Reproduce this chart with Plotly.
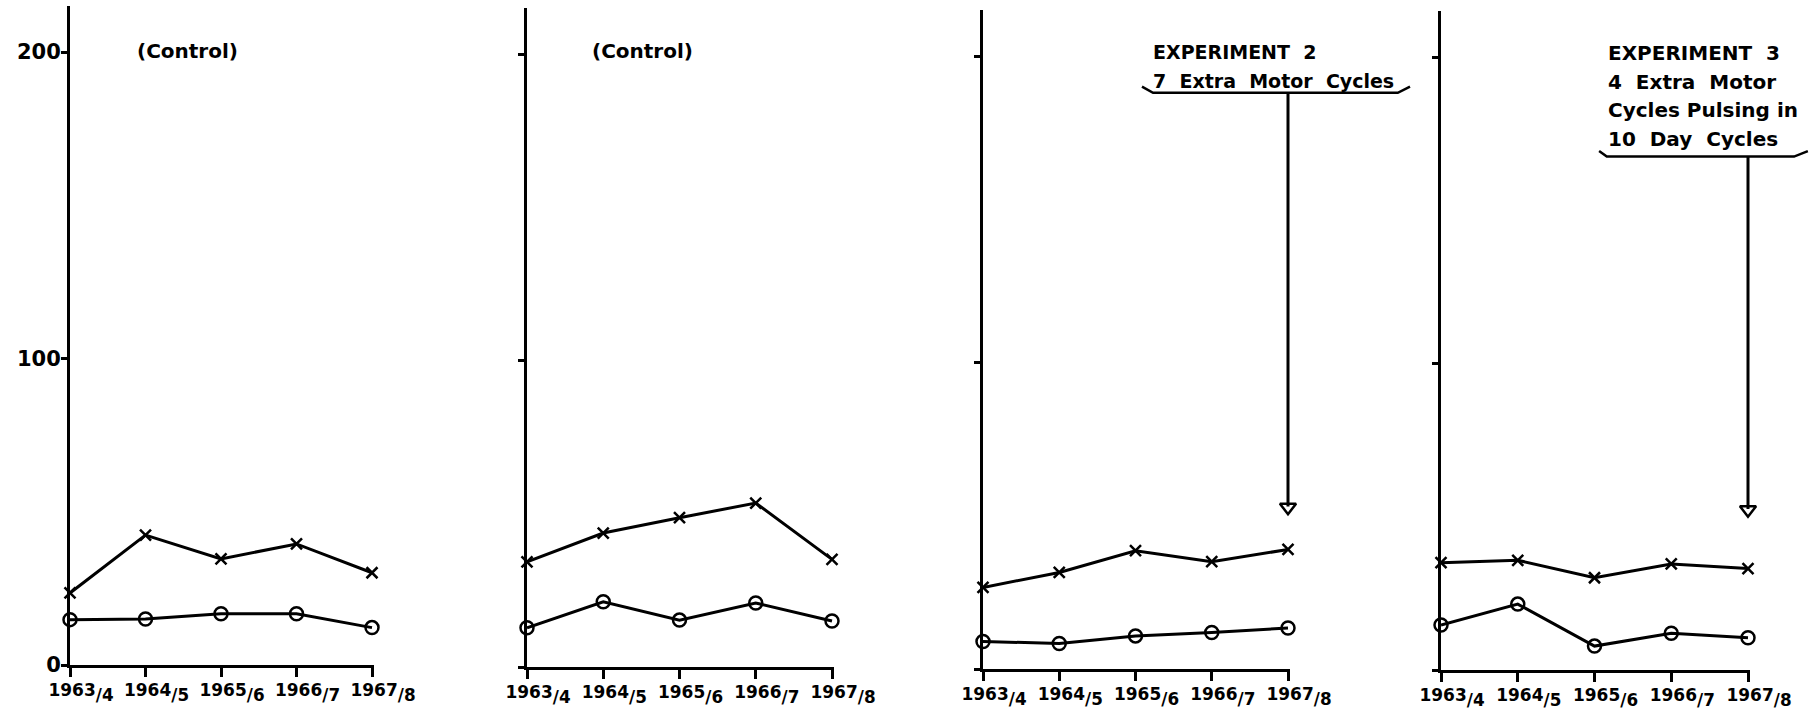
import plotly.graph_objects as go

W, H = 1812, 721

# ---- data -------------------------------------------------------------
seasons = ["1963/4", "1964/5", "1965/6", "1966/7", "1967/8"]
y_ticks = [0, 100, 200]

control_a_cross = [23.5, 42.4, 34.6, 39.5, 30.1]
control_a_circle = [14.8, 15.0, 16.7, 16.7, 12.2]
control_b_cross = [34.3, 43.7, 48.7, 53.5, 35.1]
control_b_circle = [12.8, 21.3, 15.3, 20.9, 15.0]
exp2_cross = [26.6, 31.5, 38.6, 35.0, 39.0]
exp2_circle = [9.0, 8.3, 10.8, 11.9, 13.4]
exp3_cross = [35.0, 35.8, 30.1, 34.6, 33.1]
exp3_circle = [14.7, 21.5, 7.8, 12.0, 10.5]

exp2_lines = ["EXPERIMENT\u00a0\u00a02", "7\u00a0\u00a0Extra\u00a0\u00a0Motor\u00a0\u00a0Cycles"]
exp3_lines = ["EXPERIMENT\u00a0\u00a03", "4\u00a0\u00a0Extra\u00a0\u00a0Motor",
              "Cycles\u00a0Pulsing\u00a0in", "10\u00a0\u00a0Day\u00a0\u00a0Cycles"]
arrow_tip = {3: 50.0, 4: 49.5}
bracket_level = {3: 188.0, 4: 167.5}

# tick text: the season's year, then a lowered "/n"
tick_text = ['<span style="font-size:17px">' + s[:4] + '</span><sub>/' + s[5] + '</sub>'
             for s in seasons]

# ---- panel geometry (pixels) -----------------------------------------
panels = [
    dict(left=70, step=75.5, base=665, cross=control_a_cross, circle=control_a_circle),
    dict(left=527, step=76.25, base=667, cross=control_b_cross, circle=control_b_circle),
    dict(left=983, step=76.25, base=669, cross=exp2_cross, circle=exp2_circle),
    dict(left=1441, step=76.75, base=670, cross=exp3_cross, circle=exp3_circle),
]
PX_PER_UNIT = 3.065
Y_TOP = 215
X_MAX = 4.03
FONT = "DejaVu Sans"


def px(panel, xv):
    p = panels[panel - 1]
    return (p["left"] + xv * p["step"]) / W


def py(panel, yv):
    p = panels[panel - 1]
    return (H - (p["base"] - yv * PX_PER_UNIT)) / H


fig = go.Figure()
layout = dict(
    template="none",
    width=W, height=H, margin=dict(l=0, r=0, t=0, b=0, pad=0, autoexpand=False),
    paper_bgcolor="white", plot_bgcolor="white", showlegend=False,
)

for i, p in enumerate(panels, start=1):
    sx = "" if i == 1 else str(i)
    xa, ya = "x" + sx, "y" + sx
    fig.add_trace(go.Scatter(
        x=list(range(len(seasons))), y=p["cross"], xaxis=xa, yaxis=ya,
        mode="lines+markers", cliponaxis=False, hoverinfo="skip",
        line=dict(color="black", width=3),
        marker=dict(symbol="x-thin-open", size=11, line=dict(color="black", width=2.5)),
    ))
    fig.add_trace(go.Scatter(
        x=list(range(len(seasons))), y=p["circle"], xaxis=xa, yaxis=ya,
        mode="lines+markers", cliponaxis=False, hoverinfo="skip",
        line=dict(color="black", width=3),
        marker=dict(symbol="circle-open", size=13, color="black",
                    line=dict(color="black", width=2.5)),
    ))
    layout["xaxis" + sx] = dict(
        domain=[p["left"] / W, (p["left"] + X_MAX * p["step"]) / W],
        range=[0, X_MAX], anchor=ya, automargin=False,
        tickvals=list(range(len(seasons))), ticktext=tick_text,
        ticks="outside", ticklen=9, tickwidth=3, tickcolor="black",
        ticklabelshift=11, ticklabelstandoff=-10,
        showline=True, linewidth=3, linecolor="black",
        showgrid=False, zeroline=False,
        tickfont=dict(family=FONT, size=24, color="black", weight="bold"),
    )
    layout["yaxis" + sx] = dict(
        domain=[(H - p["base"]) / H, (H - (p["base"] - Y_TOP * PX_PER_UNIT)) / H],
        range=[0, Y_TOP], anchor=xa, automargin=False,
        tickvals=y_ticks, ticks="outside", ticklen=6, tickwidth=2.5, tickcolor="black",
        showticklabels=(i == 1), ticklabelstandoff=-4,
        showline=True, linewidth=3, linecolor="black",
        showgrid=False, zeroline=False,
        tickfont=dict(family=FONT, size=21, color="black", weight="bold"),
    )

annotations = []
for i, xc in ((1, 187), (2, 642)):
    annotations.append(dict(
        x=xc / W, y=(H - 51) / H, xref="paper", yref="paper", showarrow=False,
        text="(Control)", xanchor="center", yanchor="middle",
        font=dict(family=FONT, size=20, color="black", weight="bold"),
    ))

for k, line in enumerate(exp2_lines):
    annotations.append(dict(
        x=1151 / W, y=(H - (52 + 29 * k)) / H, xref="paper", yref="paper",
        showarrow=False, text=line, xanchor="left", yanchor="middle",
        font=dict(family=FONT, size=19, color="black", weight="bold"),
    ))
for k, line in enumerate(exp3_lines):
    annotations.append(dict(
        x=1606 / W, y=(H - (53 + 28.7 * k)) / H, xref="paper", yref="paper",
        showarrow=False, text=line, xanchor="left", yanchor="middle",
        font=dict(family=FONT, size=20, color="black", weight="bold"),
    ))
layout["annotations"] = annotations

# brackets with upturned ends and arrows pointing to the final season
shapes = []
brackets = {
    3: dict(hook=(2.085, 5.6), span=(2.23, 5.44), lift=2.0),
    4: dict(hook=(2.06, 4.78), span=(2.16, 4.6), lift=1.8),
}
for i, b in brackets.items():
    lvl = bracket_level[i]
    xs = [px(i, b["hook"][0]), px(i, b["span"][0]), px(i, b["span"][1]), px(i, b["hook"][1])]
    ys = [py(i, lvl + b["lift"]), py(i, lvl), py(i, lvl), py(i, lvl + b["lift"])]
    path = "M {} {} L {} {} L {} {} L {} {}".format(
        xs[0], ys[0], xs[1], ys[1], xs[2], ys[2], xs[3], ys[3])
    shapes.append(dict(type="path", path=path, xref="paper", yref="paper",
                       line=dict(color="black", width=2.5)))
    shapes.append(dict(type="line", xref="paper", yref="paper",
                       x0=px(i, 4), x1=px(i, 4), y0=py(i, lvl), y1=py(i, arrow_tip[i] + 3),
                       line=dict(color="black", width=3)))
    sx = str(i)
    fig.add_trace(go.Scatter(
        x=[4], y=[arrow_tip[i] + 2.8], xaxis="x" + sx, yaxis="y" + sx,
        mode="markers", cliponaxis=False, hoverinfo="skip",
        marker=dict(symbol="triangle-down-open", size=14, color="black",
                    line=dict(color="black", width=2.5)),
    ))
layout["shapes"] = shapes

fig.update_layout(**layout)
fig.write_html("out.html")
